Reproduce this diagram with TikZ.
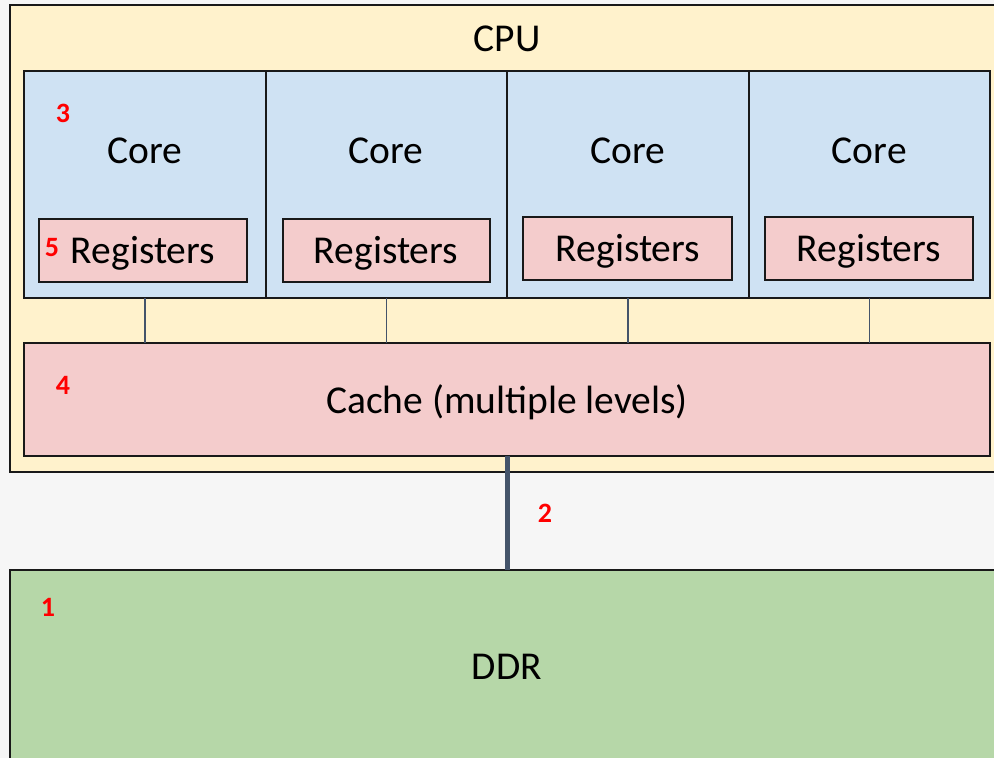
\documentclass[tikz,border=0pt]{standalone}
\usepackage{fontspec}
\setmainfont{Carlito}
\definecolor{pagebg}{HTML}{F6F6F6}
\definecolor{cpufill}{HTML}{FFF2CC}
\definecolor{corefill}{HTML}{CFE2F3}
\definecolor{memfill}{HTML}{F4CCCC}
\definecolor{ddrfill}{HTML}{B6D7A8}
\definecolor{linkgrey}{HTML}{44546A}
\definecolor{tagred}{HTML}{FF0000}
\tikzset{
  box/.style={draw=black!90, line width=2pt, inner sep=0pt, outer sep=0pt, anchor=north west},
  bigtext/.style={font=\fontsize{39.5}{39.5}\selectfont, text=black, inner sep=0pt},
  tag/.style={font=\fontsize{28}{28}\selectfont\bfseries, text=tagred, inner sep=0pt},
  thinlink/.style={draw=linkgrey, line width=1.5pt},
  buslink/.style={draw=linkgrey, line width=5pt}
}
\begin{document}
\begin{tikzpicture}[x=1pt, y=-1pt]
  \useasboundingbox (0,0) rectangle (994,758);
  \clip (0,0) rectangle (994,758);
  \fill[pagebg] (0,0) rectangle (994,758);

  % CPU package
  \node[box, fill=cpufill, minimum width=1000pt, minimum height=467pt] (cpu) at (10,5) {};
  \node[bigtext] (cputxt) at (507,39) {CPU};

  % four cores
  \foreach \i/\x in {1/24, 2/265.5, 3/507, 4/748.5} {
    \node[box, fill=corefill, minimum width=241.5pt, minimum height=227pt] (core\i) at (\x,71) {};
    \node[bigtext] (coretxt\i) at (\x+120.75,151) {Core};
  }

  % register files
  \node[box, fill=memfill, minimum width=208pt, minimum height=63pt] (reg1) at (39,219) {};
  \node[box, fill=memfill, minimum width=207pt, minimum height=63pt] (reg2) at (283,219) {};
  \node[box, fill=memfill, minimum width=209pt, minimum height=63pt] (reg3) at (523,217) {};
  \node[box, fill=memfill, minimum width=208pt, minimum height=63pt] (reg4) at (765,217) {};
  \node[bigtext] (regtxt1) at (143,253) {Registers};
  \node[bigtext] (regtxt2) at (386,253) {Registers};
  \node[bigtext] (regtxt3) at (628,251) {Registers};
  \node[bigtext] (regtxt4) at (869,251) {Registers};

  % shared cache
  \node[box, fill=memfill, minimum width=966pt, minimum height=113pt] (cache) at (24,343) {};
  \node[bigtext] (cachetxt) at (507,402) {Cache (multiple levels)};

  % core-to-cache links
  \foreach \i in {1,...,4} {
    \draw[thinlink] (core\i.south) -- (core\i.south |- cache.north);
  }

  % main memory
  \node[box, fill=ddrfill, minimum width=1000pt, minimum height=200pt] (ddr) at (10,570) {};
  \node[bigtext] (ddrtxt) at (507,667) {DDR};

  % memory bus
  \draw[buslink] (cache.south) -- (cache.south |- ddr.north);

  % level markers
  \node[tag] (tag1) at (48,607) {1};
  \node[tag] (tag2) at (545,513) {2};
  \node[tag] (tag3) at (63,113) {3};
  \node[tag] (tag4) at (63,385) {4};
  \node[tag] (tag5) at (52,248) {5};
\end{tikzpicture}
\end{document}
